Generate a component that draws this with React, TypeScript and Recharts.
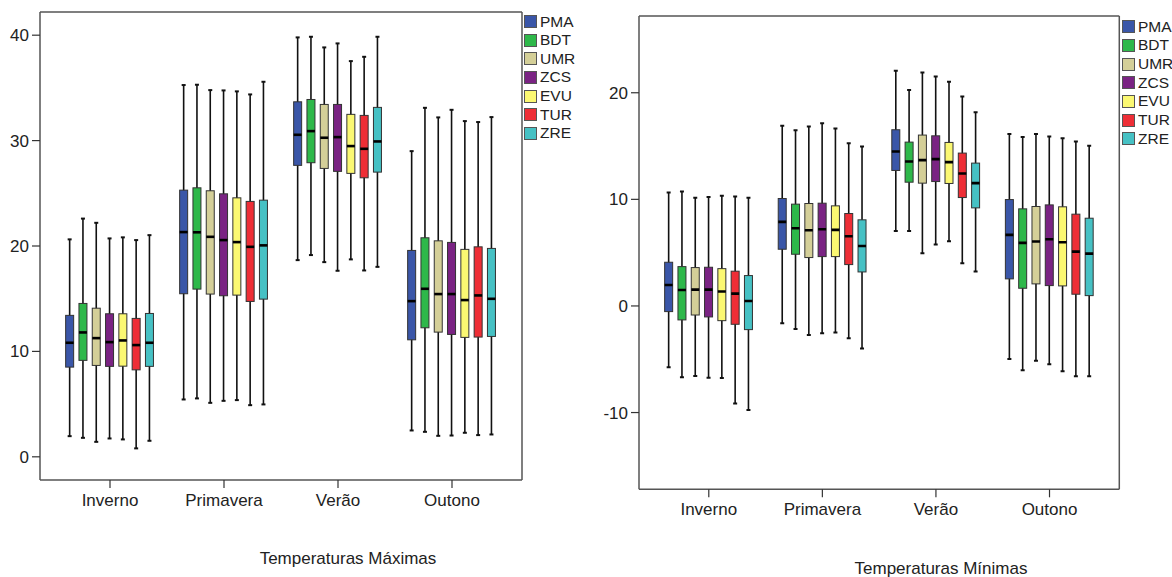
import React from 'react';
import { ComposedChart, Bar, XAxis, YAxis } from 'recharts';

const seasons = ['Inverno', 'Primavera', 'Verão', 'Outono'];
const stations = ['PMA', 'BDT', 'UMR', 'ZCS', 'EVU', 'TUR', 'ZRE'];
const stationColors = ['#3A56A8', '#2EB84A', '#D4CF98', '#7A2383', '#FBF872', '#EE2E36', '#46C1C4'];

const maxTicks = [0, 10, 20, 30, 40];
const minTicks = [-10, 0, 10, 20];

// each entry: [min, q1, median, q3, max] for Inverno, Primavera, Verão, Outono
const maxPMA = [[1.96, 8.51, 10.82, 13.42, 20.63], [5.44, 15.47, 21.32, 25.3, 35.27], [18.66, 27.65, 30.55, 33.68, 39.79], [2.5, 11.1, 14.77, 19.58, 29.0]];
const maxBDT = [[1.8, 9.15, 11.8, 14.55, 22.6], [5.54, 15.91, 21.3, 25.52, 35.3], [19.14, 27.9, 30.9, 33.9, 39.85], [2.37, 12.24, 15.94, 20.78, 33.11]];
const maxUMR = [[1.42, 8.67, 11.26, 14.1, 22.2], [5.12, 15.44, 20.87, 25.24, 34.79], [18.47, 27.36, 30.27, 33.43, 38.84], [1.99, 11.83, 15.44, 20.49, 32.2]];
const maxZCS = [[1.74, 8.58, 10.88, 13.57, 20.72], [5.31, 15.28, 20.56, 24.95, 34.76], [17.65, 27.08, 30.33, 33.43, 39.22], [2.02, 11.61, 15.44, 20.34, 32.92]];
const maxEVU = [[1.65, 8.6, 11.04, 13.57, 20.82], [5.38, 15.34, 20.37, 24.57, 34.67], [18.73, 26.89, 29.48, 32.49, 37.54], [2.28, 11.33, 14.87, 19.68, 31.85]];
const maxTUR = [[0.8, 8.25, 10.6, 13.13, 20.56], [4.9, 14.74, 19.92, 24.23, 34.38], [17.68, 26.47, 29.22, 32.39, 37.95], [2.06, 11.36, 15.31, 19.92, 31.76]];
const maxZRE = [[1.52, 8.58, 10.82, 13.6, 21.03], [4.97, 14.96, 20.06, 24.35, 35.58], [18.02, 27.01, 29.92, 33.15, 39.85], [2.12, 11.42, 14.99, 19.77, 32.23]];

const minPMA = [[-5.76, -0.53, 1.97, 4.1, 10.64], [-1.63, 5.32, 7.89, 10.08, 16.9], [7.04, 12.71, 14.49, 16.53, 22.07], [-4.98, 2.54, 6.67, 9.98, 16.12]];
const minBDT = [[-6.7, -1.31, 1.5, 3.69, 10.73], [-2.16, 4.85, 7.29, 9.55, 16.49], [7.04, 11.61, 13.55, 15.37, 20.25], [-6.04, 1.66, 5.92, 9.11, 15.84]];
const minUMR = [[-6.57, -0.85, 1.53, 3.6, 10.14], [-2.72, 4.54, 7.1, 9.61, 16.84], [4.95, 11.52, 13.68, 16.03, 21.91], [-5.13, 2.07, 6.04, 9.33, 16.12]];
const minZCS = [[-6.73, -1.03, 1.53, 3.63, 10.23], [-2.57, 4.63, 7.2, 9.64, 17.15], [5.76, 11.67, 13.77, 15.96, 21.53], [-5.48, 1.91, 6.26, 9.48, 15.9]];
const minEVU = [[-6.76, -1.38, 1.35, 3.5, 10.33], [-2.5, 4.63, 7.14, 9.39, 16.65], [6.07, 11.49, 13.49, 15.34, 21.03], [-6.13, 1.88, 5.98, 9.3, 15.74]];
const minTUR = [[-9.14, -1.72, 1.16, 3.26, 10.27], [-3.04, 3.88, 6.54, 8.67, 15.27], [4.0, 10.17, 12.42, 14.34, 19.66], [-6.6, 1.1, 5.1, 8.61, 15.43]];
const minZRE = [[-9.77, -2.22, 0.47, 2.85, 10.14], [-3.98, 3.19, 5.63, 8.08, 14.96], [3.22, 9.2, 11.52, 13.4, 18.18], [-6.6, 0.97, 4.91, 8.23, 15.02]];

const maxStats = [maxPMA, maxBDT, maxUMR, maxZCS, maxEVU, maxTUR, maxZRE];
const minStats = [minPMA, minBDT, minUMR, minZCS, minEVU, minTUR, minZRE];

const FONT = '"Liberation Sans", Arial, sans-serif';

function buildData(stats: number[][][]) {
  return seasons.map((s, i) => {
    const row: any = { season: s };
    stations.forEach((st, k) => {
      row[st] = stats[k][i];
    });
    return row;
  });
}

function BoxShape(props: any) {
  const { x, y, width, height, payload, stationKey, color } = props;
  const stats: number[] = payload[stationKey];
  const [mn, q1, md, q3, mx] = stats;
  const ppu = height / (mx - mn);
  const py = (v: number) => y + (mx - v) * ppu;
  const cx = x + width / 2;
  const bw = 8;
  return (
    <g>
      <line x1={cx} x2={cx} y1={py(mx)} y2={py(mn)} stroke="#111" strokeWidth={1.6} />
      <line x1={cx - 2} x2={cx + 2} y1={py(mx)} y2={py(mx)} stroke="#111" strokeWidth={2} />
      <line x1={cx - 2} x2={cx + 2} y1={py(mn)} y2={py(mn)} stroke="#111" strokeWidth={2} />
      <rect x={cx - bw / 2} y={py(q3)} width={bw} height={py(q1) - py(q3)} fill={color} stroke="#333" strokeWidth={1} />
      <line x1={cx - bw / 2} x2={cx + bw / 2} y1={py(md)} y2={py(md)} stroke="#000" strokeWidth={2.6} />
    </g>
  );
}

function BoxChart(props: any) {
  const { stats, domain, ticks, width, height, margin, yWidth, xHeight } = props;
  const data = buildData(stats);
  const axisColor = '#555';
  return (
    <ComposedChart width={width} height={height} data={data} margin={margin} barGap={0} barSize={13.3}>
      <XAxis
        xAxisId="b"
        dataKey="season"
        height={xHeight}
        padding={{ left: 13, right: 13 }}
        tickSize={8}
        tickMargin={6}
        axisLine={{ stroke: axisColor, strokeWidth: 1.5 }}
        tickLine={{ stroke: '#333', strokeWidth: 1.2 }}
        tick={{ fill: '#222', fontSize: 17, fontFamily: FONT }}
        interval={0}
      />
      <XAxis
        xAxisId="t"
        orientation="top"
        dataKey="season"
        height={1}
        tick={false}
        tickLine={false}
        axisLine={{ stroke: axisColor, strokeWidth: 1.5 }}
      />
      <YAxis
        yAxisId="l"
        width={yWidth}
        type="number"
        domain={domain}
        ticks={ticks}
        allowDataOverflow
        tickSize={8}
        tickMargin={3}
        axisLine={{ stroke: axisColor, strokeWidth: 1.5 }}
        tickLine={{ stroke: '#333', strokeWidth: 1.2 }}
        tick={{ fill: '#222', fontSize: 17, fontFamily: FONT }}
      />
      <YAxis
        yAxisId="r"
        orientation="right"
        width={1}
        type="number"
        domain={domain}
        allowDataOverflow
        tick={false}
        tickLine={false}
        axisLine={{ stroke: axisColor, strokeWidth: 1.5 }}
      />
      {stations.map((st, k) => (
        <Bar
          key={st}
          xAxisId="b"
          yAxisId="l"
          dataKey={(d: any) => [d[st][0], d[st][4]]}
          isAnimationActive={false}
          shape={(p: any) => <BoxShape {...p} stationKey={st} color={stationColors[k]} />}
        />
      ))}
    </ComposedChart>
  );
}

function LegendBox(props: any) {
  const { left, top, rowH } = props;
  return (
    <div style={{ position: 'absolute', left, top, fontFamily: FONT }}>
      {stations.map((st, k) => (
        <div key={st} style={{ display: 'flex', alignItems: 'center', height: rowH }}>
          <div
            style={{
              width: 13,
              height: 13,
              boxSizing: 'border-box',
              background: stationColors[k],
              border: '1px solid #555',
              marginRight: 3,
            }}
          />
          <span style={{ fontSize: 15.5, color: '#222', lineHeight: '16px' }}>{st}</span>
        </div>
      ))}
    </div>
  );
}

export default function App() {
  return (
    <div style={{ position: 'absolute', left: 0, top: 0, width: 1172, height: 577, background: '#fff', overflow: 'hidden', fontFamily: FONT }}>
      <div style={{ position: 'absolute', left: 0, top: 0 }}>
        <BoxChart
          stats={maxStats}
          domain={[-2.2, 42.2]}
          ticks={maxTicks}
          width={580}
          height={577}
          margin={{ top: 11, right: 57, bottom: 67, left: 0 }}
          yWidth={40}
          xHeight={30}
        />
      </div>
      <div style={{ position: 'absolute', left: 580, top: 0 }}>
        <BoxChart
          stats={minStats}
          domain={[-17.2, 27.2]}
          ticks={minTicks}
          width={592}
          height={577}
          margin={{ top: 15, right: 51.7, bottom: 57.7, left: 0 }}
          yWidth={59}
          xHeight={30}
        />
      </div>
      <LegendBox left={524} top={12.4} rowH={18.6} />
      <LegendBox left={1122} top={17.4} rowH={18.7} />
      <div style={{ position: 'absolute', left: 198, top: 549.6, width: 300, textAlign: 'center', fontSize: 17, lineHeight: '17px', color: '#222' }}>
        Temperaturas Máximas
      </div>
      <div style={{ position: 'absolute', left: 791, top: 559.6, width: 300, textAlign: 'center', fontSize: 17, lineHeight: '17px', color: '#222' }}>
        Temperaturas Mínimas
      </div>
    </div>
  );
}
